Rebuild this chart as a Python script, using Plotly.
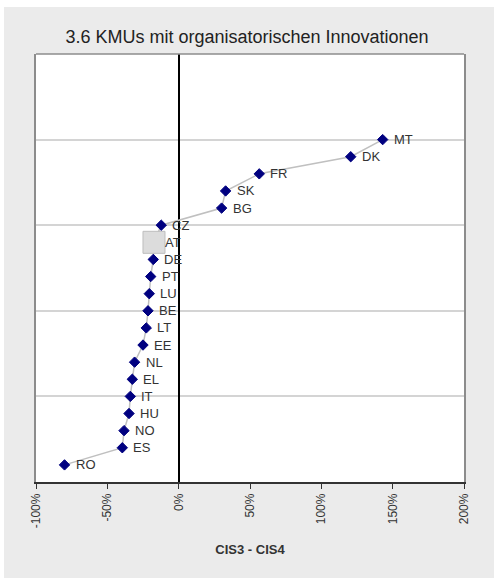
import plotly.graph_objects as go

# Countries ordered bottom (rank 1) to top (rank 20)
countries = ["RO", "ES", "NO", "HU", "IT", "EL", "NL", "EE", "LT", "BE",
             "LU", "PT", "DE", "AT", "CZ", "BG", "SK", "FR", "DK", "MT"]
# Change CIS3 -> CIS4 (fraction)
change = [-0.80, -0.395, -0.383, -0.348, -0.339, -0.325, -0.309, -0.25, -0.227, -0.215,
          -0.206, -0.196, -0.178, -0.173, -0.122, 0.301, 0.329, 0.565, 1.206, 1.43]
rank = list(range(1, len(countries) + 1))

x_ticks = [-1.0, -0.5, 0.0, 0.5, 1.0, 1.5, 2.0]
x_ticklabels = ["-100%", "-50%", "0%", "50%", "100%", "150%", "200%"]

# AT is shown as a highlighted grey box instead of a diamond
symbols = ["square" if c == "AT" else "diamond" for c in countries]
sizes = [22 if c == "AT" else 8 for c in countries]
colors = ["#dcdcdc" if c == "AT" else "#000080" for c in countries]
line_colors = ["#bdbdbd" if c == "AT" else "#000080" for c in countries]

fig = go.Figure()
fig.add_trace(go.Scatter(
    x=change, y=rank, mode="lines+markers",
    line=dict(color="#c0c0c0", width=1.5),
    marker=dict(symbol=symbols, size=sizes, color=colors, opacity=1,
                line=dict(color=line_colors, width=1)),
    hoverinfo="text", text=countries, showlegend=False,
))

for c, v, r in zip(countries, change, rank):
    fig.add_annotation(x=v, y=r, text=c, showarrow=False, xanchor="left",
                       yanchor="middle", xshift=9,
                       font=dict(family="Liberation Sans", size=13, color="#333333"))

L, R, T, B = 36, 30, 54, 96
W, H = 494, 578
pw, ph = W - L - R, H - T - B

# thin white strips along the top and left edges of the grey panel
fig.add_shape(type="rect", xref="paper", yref="paper", layer="below",
              x0=-L / pw, x1=(W - L) / pw, y0=(H - B - 7) / ph, y1=(H - B) / ph,
              fillcolor="white", line=dict(width=0))
fig.add_shape(type="rect", xref="paper", yref="paper", layer="below",
              x0=-L / pw, x1=(4 - L) / pw, y0=-B / ph, y1=(H - B) / ph,
              fillcolor="white", line=dict(width=0))
# top border of plot area
fig.add_shape(type="line", xref="paper", yref="paper", x0=0, x1=1, y0=1, y1=1,
              line=dict(color="#8c8c8c", width=1.5))

fig.update_layout(
    width=W, height=H,
    margin=dict(l=L, r=R, t=T, b=B),
    paper_bgcolor="#ebebeb", plot_bgcolor="white",
    title=dict(text="3.6 KMUs mit organisatorischen Innovationen",
               x=0.5, xanchor="center", y=1 - 37 / H, yanchor="middle",
               font=dict(family="Liberation Sans", size=18, color="#222222")),
    xaxis=dict(range=[-1, 2], tickvals=x_ticks, ticktext=x_ticklabels,
               tickangle=-90, ticks="outside", ticklen=5, tickcolor="#333333",
               showgrid=False, zeroline=True, zerolinecolor="black", zerolinewidth=1.5,
               showline=True, linecolor="#333333", linewidth=1.5,
               tickfont=dict(family="Liberation Sans", size=12, color="#333333"),
               title=dict(text="<b>CIS3 - CIS4</b>", standoff=18,
                          font=dict(family="Liberation Sans", size=13, color="#333333"))),
    yaxis=dict(range=[0, 25], dtick=5, showticklabels=False, ticks="",
               showgrid=True, gridcolor="#d4d4d4", gridwidth=1.5, zeroline=False,
               showline=True, mirror=True, linecolor="#8c8c8c", linewidth=1.5),
)

fig.write_html("out.html")
